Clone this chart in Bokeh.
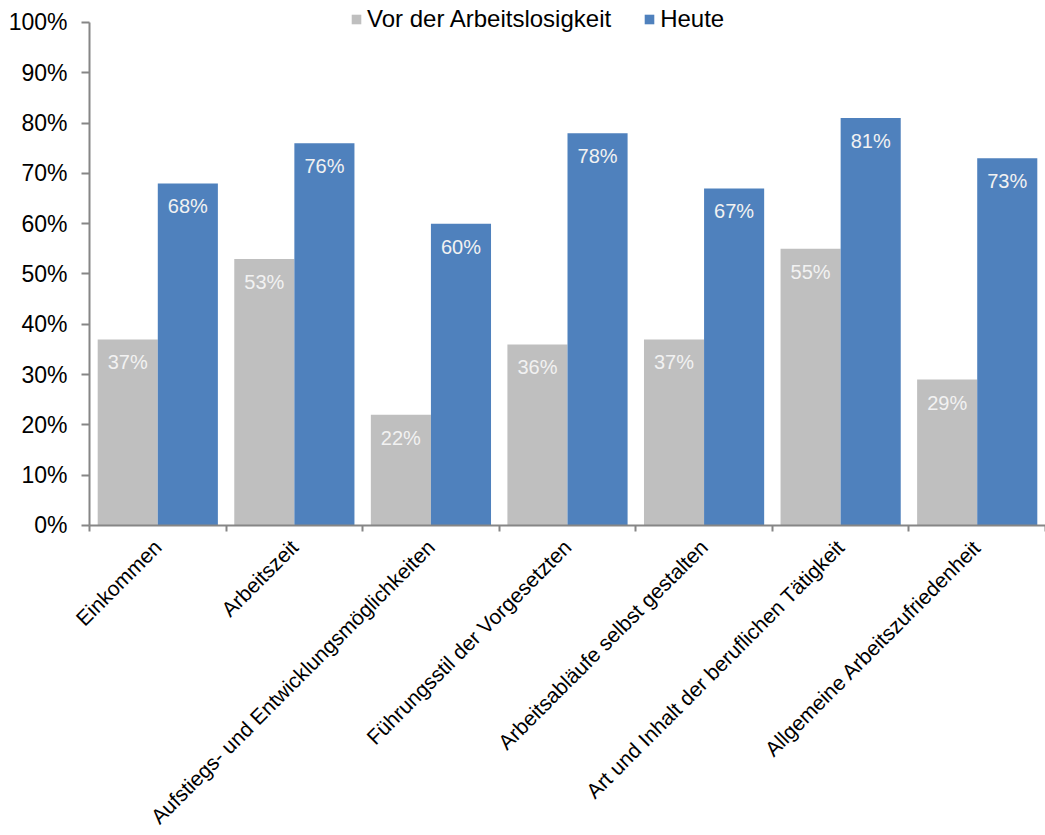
import math
from bokeh.plotting import figure
from bokeh.models import ColumnDataSource, FixedTicker, Range1d, Legend, LegendItem, LabelSet
from bokeh.core.properties import value
from bokeh.embed import file_html
from bokeh.resources import INLINE

categories = ["Einkommen", "Arbeitszeit", "Aufstiegs- und Entwicklungsmöglichkeiten",
              "Führungsstil der Vorgesetzten", "Arbeitsabläufe selbst gestalten",
              "Art und Inhalt der beruflichen Tätigkeit", "Allgemeine Arbeitszufriedenheit"]
vor = [37, 53, 22, 36, 37, 55, 29]
heute = [68, 76, 60, 78, 67, 81, 73]
series_names = ["Vor der Arbeitslosigkeit", "Heute"]
y_ticks = [0, 10, 20, 30, 40, 50, 60, 70, 80, 90, 100]

FONT = "Liberation Sans"
GRAY = "#BFBFBF"
BLUE = "#4F81BD"
AXIS = "#868686"

idx = list(range(len(categories)))
src_vor = ColumnDataSource(dict(x=[i + 0.28 for i in idx], top=vor,
                                lbl=[f"{v}%" for v in vor]))
src_heute = ColumnDataSource(dict(x=[i + 0.72 for i in idx], top=heute,
                                  lbl=[f"{v}%" for v in heute]))

# frame spans the whole canvas; both axes are fixed at value 0 inside it
p = figure(width=1045, height=835, output_backend="svg", toolbar_location=None,
           x_range=Range1d(-0.6517, len(categories)), y_range=Range1d(-61.63, 104.37),
           min_border_left=0, min_border_right=0, min_border_top=0, min_border_bottom=0)
p.outline_line_color = None
p.xgrid.visible = False
p.ygrid.visible = False

r1 = p.vbar(x="x", top="top", width=0.44, source=src_vor, fill_color=GRAY, line_color=None)
r2 = p.vbar(x="x", top="top", width=0.44, source=src_heute, fill_color=BLUE, line_color=None)

for src in (src_vor, src_heute):
    p.add_layout(LabelSet(x="x", y="top", text="lbl", source=src, text_align="center",
                          text_baseline="top", y_offset=-12, text_color="#F2F2F2",
                          text_font=value(FONT), text_font_size="20px"))

# y axis at x = 0
p.yaxis.fixed_location = 0
p.yaxis.ticker = FixedTicker(ticks=y_ticks)
p.yaxis.major_label_overrides = {t: f"{t}%" for t in y_ticks}
p.yaxis.bounds = (0, 100)
p.yaxis.axis_line_color = AXIS
p.yaxis.axis_line_width = 2
p.yaxis.major_tick_line_color = AXIS
p.yaxis.major_tick_line_width = 2
p.yaxis.major_tick_out = 8
p.yaxis.major_tick_in = 0
p.yaxis.minor_tick_line_color = None
p.yaxis.major_label_text_font = FONT
p.yaxis.major_label_text_font_size = "23px"
p.yaxis.major_label_text_color = "#000000"
p.yaxis.major_label_standoff = 14

# x axis at y = 0: labels at category centres, ticks at boundaries
p.xaxis.fixed_location = 0
p.xaxis.bounds = (0, len(categories))
p.xaxis.ticker = FixedTicker(ticks=[i + 0.5 for i in idx],
                             minor_ticks=list(range(len(categories) + 1)))
p.xaxis.major_label_overrides = {i + 0.5: c for i, c in enumerate(categories)}
p.xaxis.major_label_orientation = math.pi / 4
p.xaxis.axis_line_color = AXIS
p.xaxis.axis_line_width = 2
p.xaxis.major_tick_line_color = None
p.xaxis.major_tick_out = 6
p.xaxis.minor_tick_line_color = AXIS
p.xaxis.minor_tick_line_width = 2
p.xaxis.minor_tick_out = 6
p.xaxis.minor_tick_in = 0
p.xaxis.major_label_text_font = FONT
p.xaxis.major_label_text_font_size = "21px"
p.xaxis.major_label_text_color = "#000000"
p.xaxis.major_label_standoff = 12

legend = Legend(items=[LegendItem(label=series_names[0], renderers=[r1]),
                       LegendItem(label=series_names[1], renderers=[r2])],
                location=(350, 802), orientation="horizontal",
                border_line_color=None, background_fill_alpha=0,
                padding=0, margin=0, spacing=32, label_standoff=5,
                glyph_width=12, glyph_height=12,
                label_text_font=FONT, label_text_font_size="24px", label_text_color="#000000")
p.add_layout(legend, "center")

open("out.html", "w").write(file_html(p, INLINE))
